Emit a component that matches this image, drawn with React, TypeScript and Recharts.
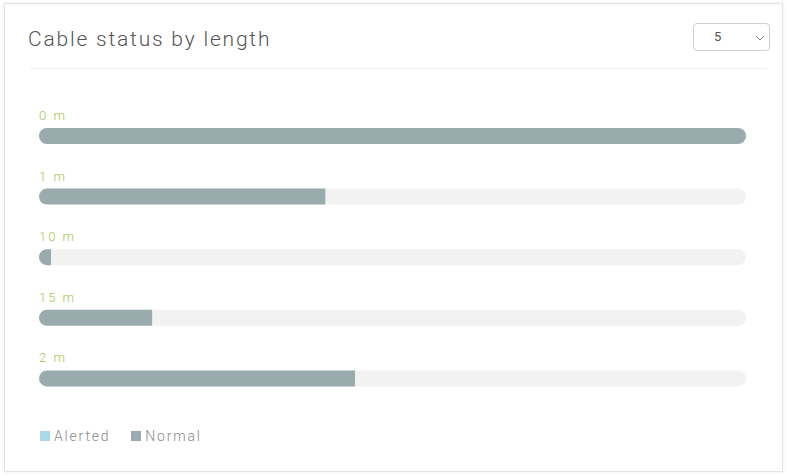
import React from "react";
import { BarChart, Bar, XAxis, YAxis, Legend, LabelList } from "recharts";

const categories = ["0 m", "1 m", "10 m", "15 m", "2 m"];
const alertedValues = [0, 0, 0, 0, 0];
const normalValues = [100, 40.5, 1.7, 16, 44.7];
const title = "Cable status by length";
const pageSize = "5";

const data = categories.map((name, i) => ({
  name,
  Alerted: alertedValues[i],
  Normal: normalValues[i],
}));
const maxTotal = Math.max(...data.map((d) => d.Alerted + d.Normal));

const PLOT_LEFT = 39;
const FONT = "Roboto, 'Open Sans', sans-serif";

function roundedPath(x: number, y: number, w: number, h: number, rl: number, rr: number) {
  rl = Math.min(rl, h / 2, w);
  rr = Math.min(rr, h / 2, Math.max(0, w - rl));
  return [
    `M${x + rl},${y}`,
    `L${x + w - rr},${y}`,
    rr ? `A${rr},${rr} 0 0 1 ${x + w},${y + rr}` : "",
    `L${x + w},${y + h - rr}`,
    rr ? `A${rr},${rr} 0 0 1 ${x + w - rr},${y + h}` : "",
    `L${x + rl},${y + h}`,
    rl ? `A${rl},${rl} 0 0 1 ${x},${y + h - rl}` : "",
    `L${x},${y + rl}`,
    rl ? `A${rl},${rl} 0 0 1 ${x + rl},${y}` : "",
    "Z",
  ].join(" ");
}

const NormalShape = (props: any) => {
  const { x, y, width, height, fill, payload } = props;
  if (!width || width <= 0) return null;
  const total = payload.Alerted + payload.Normal;
  const leftR = payload.Alerted > 0 ? 0 : 8;
  const rightR = total >= maxTotal ? 8 : 0;
  return <path d={roundedPath(x, y, width, height, leftR, rightR)} fill={fill} />;
};

const AlertedShape = (props: any) => {
  const { x, y, width, height, fill } = props;
  if (!width || width <= 0) return null;
  return <path d={roundedPath(x, y, width, height, 8, 0)} fill={fill} />;
};

const CategoryLabel = (props: any) => {
  const { y, value } = props;
  return (
    <text
      x={PLOT_LEFT}
      y={y - 8}
      fill="#a6c64e"
      fontSize={13}
      fontWeight={300}
      fontFamily={FONT}
      letterSpacing={2}
      textAnchor="start"
    >
      {value}
    </text>
  );
};

const LegendContent = (props: any) => {
  const { payload } = props;
  return (
    <div style={{ display: "flex", alignItems: "center", fontFamily: FONT }}>
      {(payload || []).map((entry: any) => (
        <div
          key={entry.value}
          style={{ display: "flex", alignItems: "center", marginRight: 21 }}
        >
          <span
            style={{
              display: "inline-block",
              width: 10,
              height: 10,
              background: entry.color,
              marginRight: 4,
            }}
          />
          <span
            style={{
              color: "#8a8a8a",
              fontSize: 14,
              fontWeight: 300,
              letterSpacing: 1.8,
            }}
          >
            {entry.value}
          </span>
        </div>
      ))}
    </div>
  );
};

export default function App() {
  return (
    <div
      style={{
        position: "absolute",
        left: 0,
        top: 0,
        width: 787,
        height: 476,
        background: "#fff",
        fontFamily: FONT,
      }}
    >
      <div
        style={{
          position: "absolute",
          left: 4,
          top: 3,
          width: 777,
          height: 467,
          border: "1px solid #e4e4e4",
          boxShadow: "0 0 3px rgba(0,0,0,0.08)",
          background: "#fff",
        }}
      />
      <div
        style={{
          position: "absolute",
          left: 28,
          top: 25,
          fontSize: 21,
          color: "#555",
          fontWeight: 300,
          letterSpacing: 1.8,
          lineHeight: "28px",
        }}
      >
        {title}
      </div>
      <div
        style={{
          position: "absolute",
          left: 30,
          top: 68,
          width: 737,
          height: 1,
          background: "#f0f0f0",
        }}
      />
      <div
        style={{
          position: "absolute",
          left: 693,
          top: 23,
          width: 77,
          height: 28,
          border: "1px solid #cfcfcf",
          borderRadius: 4,
          boxSizing: "border-box",
          color: "#555",
          fontSize: 13,
        }}
      >
        <span style={{ position: "absolute", left: 20, top: 5 }}>{pageSize}</span>
        <svg
          width={10}
          height={6}
          style={{ position: "absolute", left: 61, top: 11 }}
        >
          <path d="M1,1 L5,5 L9,1" fill="none" stroke="#888" strokeWidth={1} />
        </svg>
      </div>
      <div style={{ position: "absolute", left: 0, top: 0 }}>
        <BarChart
          width={787}
          height={476}
          data={data}
          layout="vertical"
          margin={{ top: 106, right: 41, bottom: 51, left: PLOT_LEFT }}
          barSize={16}
        >
          <XAxis type="number" hide domain={[0, maxTotal]} />
          <YAxis type="category" dataKey="name" hide />
          <Legend
            verticalAlign="bottom"
            align="left"
            wrapperStyle={{ left: 40, top: 428, width: "auto" }}
            content={<LegendContent />}
          />
          <Bar
            dataKey="Alerted"
            stackId="a"
            fill="#a9d9e8"
            background={{ fill: "#f2f2f2", radius: 8 } as any}
            shape={<AlertedShape />}
            isAnimationActive={false}
          />
          <Bar
            dataKey="Normal"
            stackId="a"
            fill="#9aabae"
            shape={<NormalShape />}
            isAnimationActive={false}
          >
            <LabelList dataKey="name" content={<CategoryLabel />} />
          </Bar>
        </BarChart>
      </div>
    </div>
  );
}
